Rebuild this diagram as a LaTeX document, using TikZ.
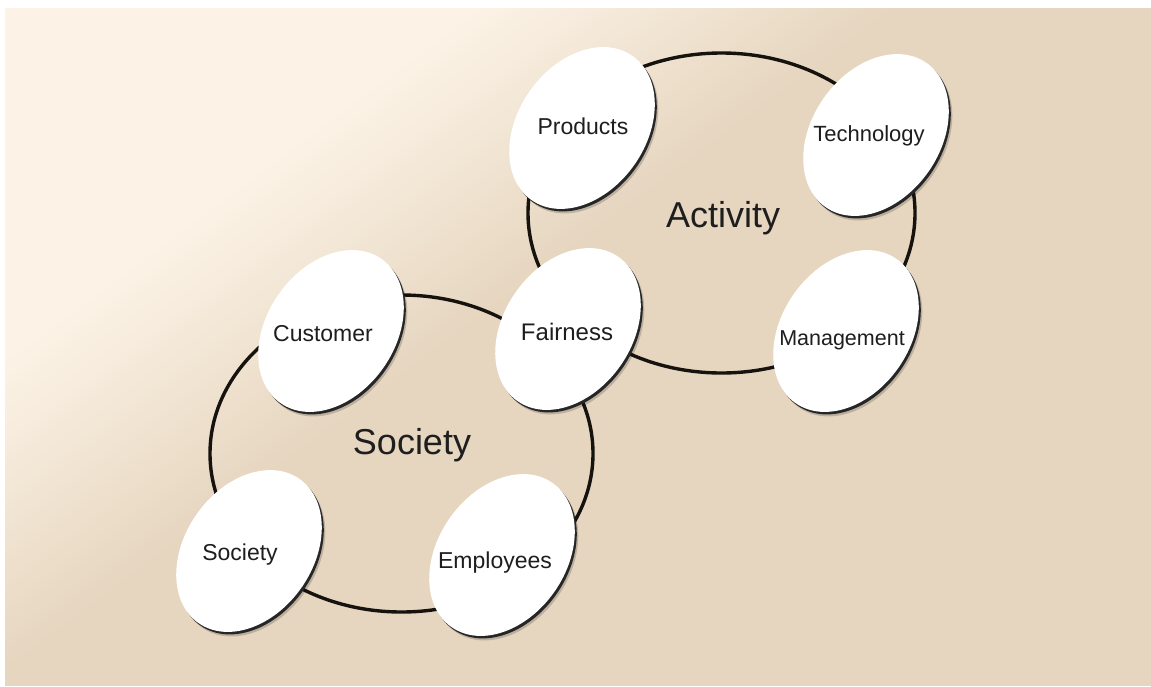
\documentclass[tikz,border=0pt]{standalone}
\usepackage{fontspec}
\setmainfont{Liberation Sans}
\usetikzlibrary{shapes.geometric}
\definecolor{bgcream}{RGB}{252,243,230}
\definecolor{bgbeige}{RGB}{230,214,192}
\definecolor{ringcol}{RGB}{22,18,14}
\definecolor{txtcol}{RGB}{30,30,30}
\begin{document}
\begin{tikzpicture}[x=1pt,y=-1pt,
  ring/.style={draw=ringcol, line width=3.4pt},
  egg/.style={ellipse, fill=white, minimum width=176pt, minimum height=128pt, inner sep=0pt, rotate=55},
  eggshadow/.style={egg, fill=black!85},
  eggsoft/.style={egg, fill=black, opacity=0.18},
  lbl/.style={text=txtcol, font=\fontsize{23}{27}\selectfont, inner sep=0pt},
  big/.style={text=txtcol, font=\fontsize{36}{40}\selectfont, inner sep=0pt}]
\useasboundingbox (0,0) rectangle (1151,686);
\fill[white] (0,0) rectangle (1151,686);
\begin{scope}
  \clip (5,8) rectangle (1151,686);
  \fill[bgbeige] (5,8) rectangle (1151,686);
  \foreach \k in {40,39,...,0}{
    \pgfmathsetmacro{\dd}{295+250*\k/40}
    \pgfmathsetmacro{\pc}{100*\k/40}
    \fill[bgbeige!\pc!bgcream]
      ({\dd*0.597+2000*0.802},{\dd*0.802-2000*0.597}) --
      ({\dd*0.597-2000*0.802},{\dd*0.802+2000*0.597}) --
      ({-1500*0.597-2000*0.802},{-1500*0.802+2000*0.597}) --
      ({-1500*0.597+2000*0.802},{-1500*0.802-2000*0.597}) -- cycle;
  }
\end{scope}
% rings
\draw[ring] (721.5,213) ellipse [x radius=193.5pt, y radius=160pt];
\draw[ring] (401.5,453.5) ellipse [x radius=191.5pt, y radius=158.5pt];
% eggs
\foreach \n/\x/\y in {products/582/128, technology/876/135, management/846/331, fairness/568/329, customer/331/331, society/249/551, employees/502/555}{
  \node[eggsoft] (\n-soft) at (\x+3.5,\y+4.5) {};
  \node[eggshadow] (\n-sh) at (\x+2,\y+2.5) {};
  \node[egg] (\n) at (\x,\y) {};
}
% labels
\node[lbl] (t-products) at (583,126) {Products};
\node[lbl, font=\fontsize{22}{26}\selectfont] (t-technology) at (869,136) {Technology};
\node[lbl, font=\fontsize{21.5}{26}\selectfont] (t-management) at (842,340) {Management};
\node[lbl, font=\fontsize{24}{28}\selectfont] (t-fairness) at (567,332) {Fairness};
\node[lbl] (t-customer) at (323,334) {Customer};
\node[lbl] (t-society) at (240,555) {Society};
\node[lbl] (t-employees) at (495,563) {Employees};
\node[big] (activity) at (723,218) {Activity};
\node[big] (societybig) at (412,445) {Society};
\end{tikzpicture}
\end{document}
